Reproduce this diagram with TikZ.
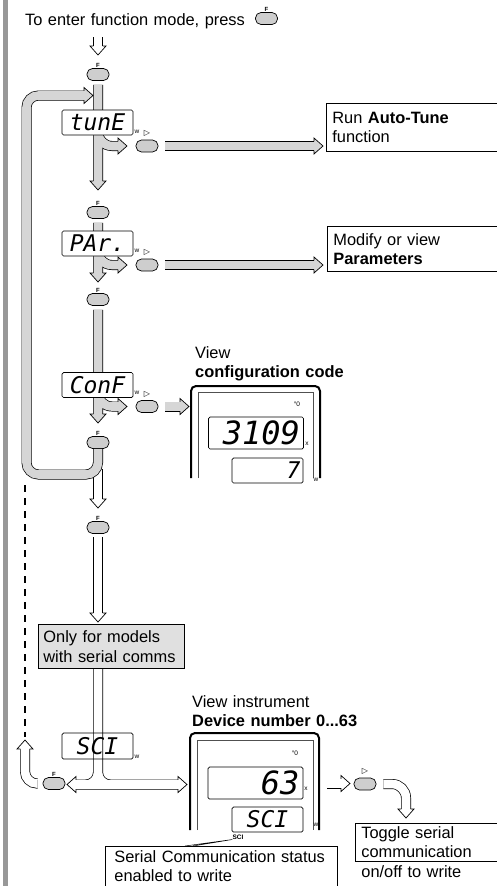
\documentclass[tikz,border=0pt]{standalone}
\usepackage{fontspec}
\setmainfont{Liberation Sans}
\newfontfamily\segfont{DejaVu Sans Mono}
\newfontfamily\symfont{DejaVu Sans}
\usetikzlibrary{positioning}

\definecolor{tubegrey}{RGB}{214,214,214}
\definecolor{btngrey}{RGB}{206,206,206}
\definecolor{boxgrey}{RGB}{224,224,224}
\definecolor{bargrey}{RGB}{152,152,152}
\definecolor{framegrey}{RGB}{80,80,80}

\tikzset{
	tubeout/.style={line width=10pt, draw=black},
	tubein/.style={line width=8.6pt, draw=#1},
	btn/.style={draw, fill=btngrey, rounded corners=5.5pt, minimum width=22pt, minimum height=12pt, inner sep=0pt, line width=0.7pt},
	flabel/.style={font=\fontsize{6}{6}\selectfont\bfseries, inner sep=0.8pt},
	tri/.style={font=\symfont\fontsize{8}{8}\selectfont, inner sep=0pt, label distance=2.5pt},
	disp/.style={draw, fill=white, rounded corners=1.5pt, minimum width=71pt, minimum height=25pt, inner sep=0pt, line width=0.7pt, font=\segfont\itshape\fontsize{23}{23}\selectfont},
	bigdisp/.style={disp, minimum width=95pt, minimum height=32pt, font=\segfont\itshape\fontsize{32}{32}\selectfont},
	maintext/.style={font=\fontsize{16.4}{19.5}\selectfont},
	infobox/.style={maintext, draw, line width=0.8pt, align=left, inner xsep=6pt, inner ysep=3pt, anchor=north west},
	plaintext/.style={maintext, align=left, inner sep=0pt, anchor=north west},
	tiny/.style={font=\fontsize{6.5}{6.5}\selectfont, inner sep=0pt},
	outerframe/.style={line width=2pt, rounded corners=5pt},
	innerframe/.style={line width=0.8pt, draw=framegrey},
	dashline/.style={line width=1.6pt, dash pattern=on 7pt off 6pt}
}

\newcommand{\tube}[2]{\draw[tubeout] #2; \draw[tubein=#1] #2;}
\newcommand{\tubehead}[3]{%
	\begin{scope}[shift={#1},rotate=#2]
		\fill[#3] (0,0) -- (-9,8) -- (-9,-8) -- cycle;
		\draw[line width=0.7pt] (-9,4.65) -- (-9,8) -- (0,0) -- (-9,-8) -- (-9,-4.65);
	\end{scope}}

\begin{document}
\begin{tikzpicture}[x=1pt, y=-1pt]

	\useasboundingbox (0,0) rectangle (497,886);
	\fill[bargrey] (3,0) rectangle (8,886);

	\node[plaintext, text width=228pt] (T0) at (25,13) {To enter function mode, press};
	\node[btn, label={[flabel]above:F}] (B0) at (266.5,18.5) {};

	\node[btn, label={[flabel]above:F}] (B1) at (98,74.5) {};
	\node[btn, label={[flabel]above:F}] (B2) at (98,212.5) {};
	\node[btn, label={[flabel]above:F}] (B3) at (98,299.5) {};
	\node[btn, label={[flabel]above:F}] (B4) at (98,442.5) {};
	\node[btn, label={[flabel]above:F}] (B5) at (98,527.5) {};
	\node[btn, label={[flabel]above:F}] (B6) at (54,783.5) {};

	\node[btn, label={[tri]above:▷}] (Q1) at (147,146) {};
	\node[btn, label={[tri]above:▷}] (Q2) at (147,265) {};
	\node[btn, label={[tri]above:▷}] (Q3) at (147,406.5) {};
	\node[btn, label={[tri]above:▷}] (Q7) at (365,784) {};

	\tube{white}{(98,37) -- (98,46)}
	\tubehead{(98,55)}{-90}{white}

	\tube{tubegrey}{([yshift=-4pt]B1.south) -- (98,181) (98,125) [rounded corners=14pt] |- (118,146)}
	\tubehead{(98,190)}{-90}{tubegrey}
	\tubehead{(127,146)}{0}{tubegrey}
	\tube{tubegrey}{([xshift=7pt]Q1.east) -- (314,146)}
	\tubehead{(323,146)}{0}{tubegrey}
	\node[disp] (D1) at (97.5,122.5) {tunE};
	\node[tiny] (W1) at (137,132) {w};
	\node[infobox, minimum height=48pt, text width=170pt] (A1) at (326,103) {Run \textbf{Auto-Tune}\\function};

	\tube{tubegrey}{([yshift=-4pt]B2.south) -- (98,273) (98,244) [rounded corners=14pt] |- (118,265)}
	\tubehead{(98,282)}{-90}{tubegrey}
	\tubehead{(127,265)}{0}{tubegrey}
	\tube{tubegrey}{([xshift=7pt]Q2.east) -- (314,265)}
	\tubehead{(323,265)}{0}{tubegrey}
	\node[disp] (D2) at (97.5,243.5) {PAr.};
	\node[tiny] (W2) at (137,251) {w};
	\node[infobox, minimum height=45pt, text width=170pt] (A2) at (327,226) {Modify or view\\\textbf{Parameters}};

	\tube{tubegrey}{([yshift=-4pt]B3.south) -- (98,414) (98,386) [rounded corners=14pt] |- (118,406.5)}
	\tubehead{(98,423)}{-90}{tubegrey}
	\tubehead{(127,406.5)}{0}{tubegrey}
	\tube{tubegrey}{([xshift=7pt]Q3.east) -- (180,406.5)}
	\tubehead{(189,406.5)}{0}{tubegrey}
	\node[disp] (D3) at (97.5,385) {ConF};
	\node[tiny] (W3) at (137,393) {w};

	\node[plaintext, text width=170pt] (V1) at (195,346) {View\\\textbf{configuration code}};
	\draw[outerframe] (191,478) -- (191,386) -- (320,386) -- (320,478);
	\draw[innerframe] (198,478) -- (198,392) -- (313,392) -- (313,478);
	\node[tiny] (O1) at (297,404) {°0};
	\node[bigdisp, text width=88pt, align=right] (D5) at (256,433) {3109};
	\node[tiny] (X1) at (307,444) {x};
	\node[disp, text width=66pt, align=right] (D6) at (267.5,470.5) {7};
	\node[tiny] (W6) at (316,480) {w};

	\tube{white}{([yshift=-20pt]B4.south) -- (98,499)}
	\tubehead{(98,508)}{-90}{white}
	\tube{tubegrey}{(B4.south) [rounded corners=12pt] -- (98,474.5) -- (26.5,474.5) -- (26.5,95.5) -- (84,95.5)}
	\tubehead{(93,95.5)}{0}{tubegrey}
	\draw[dashline] (25,485) -- (25,737);

	\tube{white}{([yshift=-3pt]B5.south) -- (98,613)}
	\tubehead{(98,622)}{-90}{white}

	\tube{white}{(98,668) [rounded corners=12pt] |- (76,784.5) (98,668) |- (178,784.5) (76,784.5) -- (178,784.5)}
	\tubehead{(67,784.5)}{180}{white}
	\tubehead{(187,784.5)}{0}{white}
	\node[infobox, fill=boxgrey, minimum height=44pt, text width=136pt, inner xsep=5pt] (M1) at (38,624) {Only for models\\with serial comms};
	\node[draw, line width=0.7pt, rounded corners=1.5pt, minimum width=71pt, minimum height=26pt, inner sep=0pt, font=\segfont\itshape\fontsize{23}{23}\selectfont] (D4) at (97.5,746) {SCI};
	\node[tiny] (W4) at (137,757) {w};

	\tube{white}{([xshift=-5pt]B6.west) [rounded corners=12pt] -| (25,749)}
	\tubehead{(25,740)}{90}{white}

	\node[plaintext, text width=180pt] (V2) at (192,695) {View instrument\\\textbf{Device number 0...63}};
	\draw[outerframe] (190,830) -- (190,733) -- (319,733) -- (319,830);
	\draw[innerframe] (197,830) -- (197,740) -- (313,740) -- (313,830);
	\node[tiny] (O2) at (295,753) {°0};
	\node[bigdisp, text width=88pt, align=right] (D7) at (255.5,783) {63};
	\node[tiny] (X2) at (306,789) {x};
	\node[disp] (D8) at (267.5,819.5) {SCI};
	\node[tiny] (W8) at (316,825) {w};
	\node[tiny, font=\fontsize{6.5}{6.5}\selectfont\bfseries] (S8) at (238,837) {SCI};

	\tube{white}{(327,783.5) -- (341,783.5)}
	\tubehead{(350,783.5)}{0}{white}
	\tube{white}{([xshift=7pt]Q7.east) [rounded corners=14pt] -| (406,809)}
	\tubehead{(406,818)}{-90}{white}

	\node[infobox, inner xsep=9pt, inner ysep=4pt, text width=214pt, text depth=20pt] (C1) at (105,846) {Serial Communication status\\enabled to write};
	\draw[line width=0.5pt] ([xshift=80pt]C1.north west) -- (S8.south west) -- ([xshift=88pt]C1.north west);
	\node[infobox, text width=140pt, text depth=20pt] (G1) at (355,823) {Toggle serial\\communication\\on/off to write};

\end{tikzpicture}
\end{document}
